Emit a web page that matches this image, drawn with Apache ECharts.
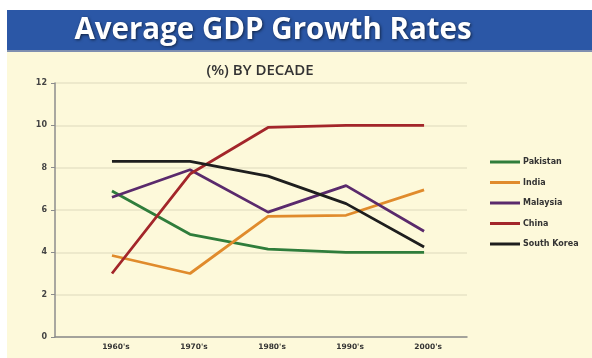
<!DOCTYPE html>
<html>
<head>
<meta charset="utf-8">
<script src="https://cdn.jsdelivr.net/npm/echarts@6/dist/echarts.min.js"></script>
<style>
  html, body { margin: 0; padding: 0; background: #ffffff; }
  #chart { width: 592px; height: 358px; }
</style>
</head>
<body>
<div id="chart"></div>
<script>
// Decades on the x axis
const decades = ["1960's", "1970's", "1980's", "1990's", "2000's"];

// Average GDP growth (%) per decade
const pakistan   = [6.9, 4.85, 4.15, 4.0, 4.0];
const india      = [3.85, 3.0, 5.7, 5.75, 6.95];
const malaysia   = [6.6, 7.9, 5.9, 7.15, 5.0];
const china      = [3.0, 7.7, 9.9, 10.0, 10.0];
const southKorea = [8.3, 8.3, 7.6, 6.3, 4.25];

// Y axis ticks
const yTicks = [0, 2, 4, 6, 8, 10, 12];

const seriesDefs = [
  { name: 'Pakistan',    data: pakistan,   color: '#2f7d3b' },
  { name: 'India',       data: india,      color: '#e08b2c' },
  { name: 'Malaysia',    data: malaysia,   color: '#5a2a6c' },
  { name: 'China',       data: china,      color: '#a3262a' },
  { name: 'South Korea', data: southKorea, color: '#1e1e1e' }
];

const chart = echarts.init(document.getElementById('chart'), null, { renderer: 'canvas' });

const smallFont = 'DejaVu Sans';

chart.setOption({
  backgroundColor: '#ffffff',
  animation: false,
  graphic: [
    // cream panel
    { type: 'rect', z: -10, shape: { x: 7, y: 51, width: 585, height: 307 },
      style: { fill: '#fdf9da' } },
    // blue banner
    { type: 'rect', z: -9, shape: { x: 7, y: 10, width: 585, height: 41 },
      style: { fill: '#2b57a6' } },
    { type: 'rect', z: -8, shape: { x: 7, y: 50, width: 585, height: 2 },
      style: { fill: '#7f8fb0' } }
  ],
  title: [
    {
      text: 'Average GDP Growth Rates',
      left: 268, top: 11, textAlign: 'center',
      textStyle: {
        color: '#ffffff', fontFamily: 'Open Sans', fontWeight: 'bold', fontSize: 29.5,
        textShadowColor: 'rgba(0,0,0,0.6)', textShadowBlur: 3, textShadowOffsetX: 1, textShadowOffsetY: 1
      }
    },
    {
      text: '(%) BY DECADE',
      left: 255, top: 58, textAlign: 'center',
      textStyle: { color: '#333333', fontFamily: 'Open Sans', fontWeight: 600, fontSize: 15 }
    }
  ],
  legend: {
    orient: 'vertical',
    left: 485, top: 152,
    icon: 'rect',
    itemWidth: 30, itemHeight: 3,
    itemGap: 10.5,
    data: seriesDefs.map(s => s.name),
    textStyle: { color: '#333', fontFamily: smallFont, fontWeight: 'bold', fontSize: 8, lineHeight: 10, padding: [0, 0, 0, -2] }
  },
  grid: { left: 55, right: 125, top: 83, bottom: 21, containLabel: false },
  xAxis: {
    type: 'value',
    min: -0.73, max: 4.55,
    axisLine: { show: true, onZero: false, lineStyle: { color: '#8c8c8c', width: 1.5 } },
    axisTick: { show: false },
    splitLine: { show: false },
    axisLabel: {
      customValues: decades.map((d, i) => i),
      formatter: v => decades[Math.round(v)],
      color: '#333', fontFamily: smallFont, fontWeight: 'bold', fontSize: 7.5, margin: 6,
      padding: [0, 0, 0, 8]
    }
  },
  yAxis: {
    type: 'value',
    min: yTicks[0], max: yTicks[yTicks.length - 1], interval: 2,
    axisLine: { show: true, onZero: false, lineStyle: { color: '#8c8c8c', width: 1.5 } },
    axisTick: { show: true, length: 4, lineStyle: { color: '#8c8c8c' } },
    splitLine: { show: true, lineStyle: { color: '#e7e3c6', width: 1.5 } },
    axisLabel: { color: '#444', fontFamily: smallFont, fontWeight: 'bold', fontSize: 8, margin: 8 }
  },
  series: seriesDefs.map(s => ({
    name: s.name,
    type: 'line',
    data: s.data.map((v, i) => [i, v]),
    symbol: 'none',
    lineStyle: { color: s.color, width: 2.8 },
    itemStyle: { color: s.color }
  }))
});
</script>
</body>
</html>
